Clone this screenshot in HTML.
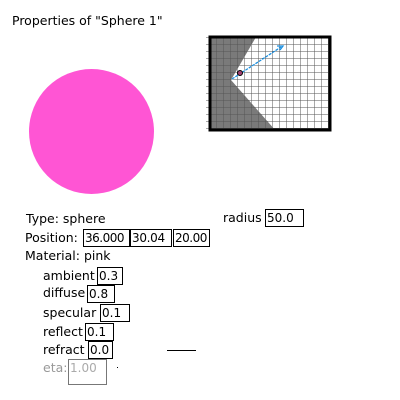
<html><head><style>
body{margin:0;width:400px;height:400px;background:#fff;position:relative;overflow:hidden;font-family:"DejaVu Sans","Liberation Sans",sans-serif;font-size:12.5px;color:#000}
.t{position:absolute;white-space:nowrap;line-height:16px}
.b{position:absolute;border:1px solid #000;line-height:16px;padding-left:1px;box-sizing:border-box;height:18px;white-space:nowrap;overflow:hidden;font-size:12px}
</style></head><body>
<div class="t" style="left:12px;top:13px">Properties of "Sphere 1"</div>
<div style="position:absolute;left:29px;top:69px;width:125px;height:125px;border-radius:50%;background:#ff55d4"></div>
<svg style="position:absolute;left:0;top:0" width="400" height="400">
<defs><pattern id="g" x="209" y="37" width="7" height="7" patternUnits="userSpaceOnUse"><path d="M0 0H7M0 0V7" stroke="#555" stroke-width="1" fill="none"/></pattern></defs>
<rect x="209" y="37" width="121" height="93" fill="#fff"/>
<polygon points="209,37 256,37 231,80 276,131 209,131" fill="#7a7a7a"/>
<rect x="206" y="37" width="124" height="93" fill="url(#g)"/>
<rect x="210" y="37" width="120" height="93" fill="none" stroke="#000" stroke-width="3"/>
<line x1="232" y1="79" x2="281" y2="47" stroke="#1a8fe0" stroke-width="1.3" stroke-dasharray="3,1"/>
<path d="M277,46 L283,46 L280,50" fill="none" stroke="#1a8fe0" stroke-width="1.3"/>
<circle cx="240" cy="73" r="2.5" fill="#a04070" stroke="#000" stroke-width="1"/>
<line x1="167" y1="350.5" x2="196" y2="350.5" stroke="#000"/>
<rect x="117" y="367" width="1" height="1" fill="#000"/>
</svg>
<div class="t" style="left:26px;top:211px">Type: sphere</div>
<div class="t" style="left:223px;top:210px">radius</div><div class="b" style="left:265px;top:209px;width:39px">50.0</div>
<div class="t" style="left:25px;top:230px">Position:</div>
<div class="b" style="left:83px;top:229px;width:47px;letter-spacing:-0.5px">36.000</div>
<div class="b" style="left:130px;top:229px;width:42px;letter-spacing:-0.3px">30.04</div>
<div class="b" style="left:173px;top:229px;width:37px;letter-spacing:-0.5px">20.00</div>
<div class="t" style="left:25px;top:248px">Material: pink</div>
<div class="t" style="left:43px;top:268px">ambient</div><div class="b" style="left:97px;top:267px;width:26px">0.3</div>
<div class="t" style="left:43px;top:285px">diffuse</div><div class="b" style="left:87px;top:285px;width:28px">0.8</div>
<div class="t" style="left:43px;top:305px">specular</div><div class="b" style="left:100px;top:304px;width:30px">0.1</div>
<div class="t" style="left:43px;top:324px">reflect</div><div class="b" style="left:85px;top:323px;width:29px">0.1</div>
<div class="t" style="left:43px;top:342px">refract</div><div class="b" style="left:88px;top:341px;width:25px">0.0</div>
<div class="t" style="left:43px;top:360px;color:#999">eta:</div><div class="b" style="left:68px;top:359px;width:39px;height:26px;border-color:#777;color:#aaa">1.00</div>
</body></html>
